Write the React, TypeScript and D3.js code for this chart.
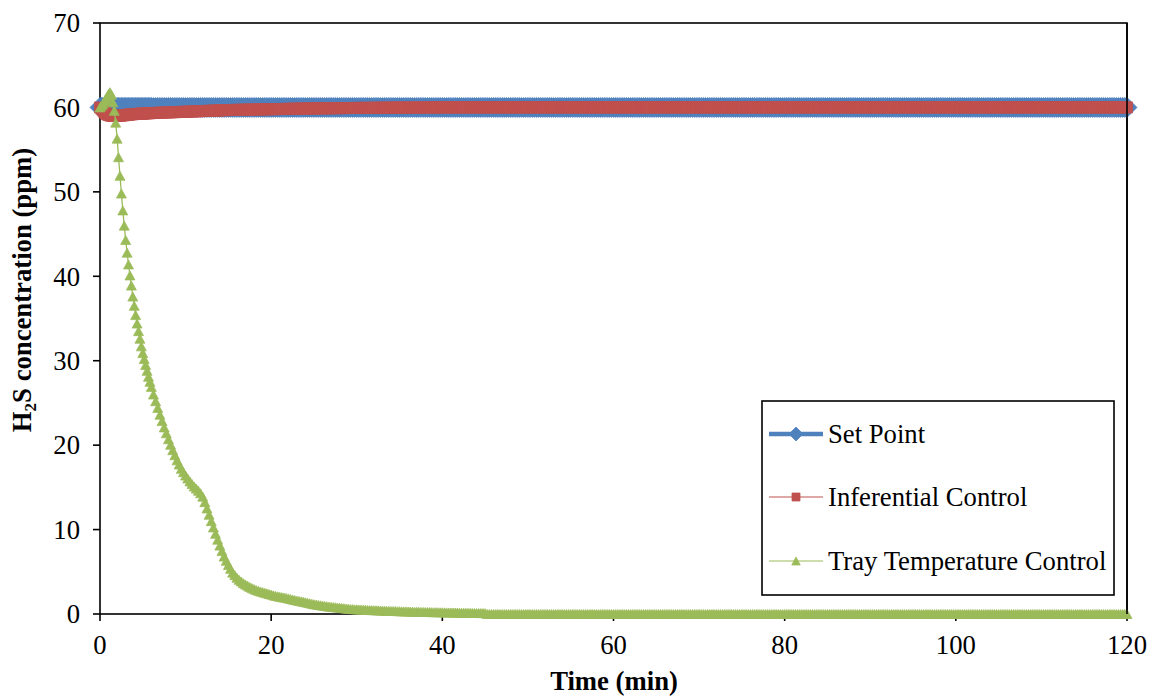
import React from "react";
import * as d3 from "d3";

// ---- sampling times (min) ----
const timeFine: number[] = d3.range(37).map((i) => i / 6); // 0 .. 6 min, 10 s steps
const timeMid: number[] = d3.range(6.25, 45.001, 0.25); // 6.25 .. 45 min
const timeTail: number[] = d3.range(45.25, 120.001, 0.25); // 45.25 .. 120 min

// ---- Tray Temperature Control (ppm) ----
const trayFine = [60.0, 60.2, 60.4, 60.7, 61.0, 61.3, 61.6, 61.8, 61.5, 60.6, 59.6, 58.2, 56.3, 54.1, 51.9, 49.8, 47.8, 46.0, 44.3, 42.8, 41.4, 40.1, 38.9, 37.6, 36.5, 35.4, 34.4, 33.5, 32.6, 31.7, 30.9, 30.2, 29.5, 28.8, 28.1, 27.5, 26.9];
const trayMid = [
  26.0, 25.2, 24.4, 23.6,
  22.85, 22.1, 21.4, 20.7,
  20.05, 19.4, 18.8, 18.2,
  17.7, 17.2, 16.8, 16.4,
  16.05, 15.7, 15.4, 15.1,
  14.85, 14.6, 14.3, 13.9,
  13.25, 12.5, 11.75, 11.0,
  10.25, 9.5, 8.8, 8.1,
  7.45, 6.8, 6.3, 5.8,
  5.35, 4.9, 4.6, 4.3,
  4.05, 3.85, 3.65, 3.5,
  3.35, 3.2, 3.07, 2.95,
  2.85, 2.75, 2.67, 2.6,
  2.52, 2.45, 2.37, 2.3,
  2.22, 2.15, 2.1, 2.05,
  2.0, 1.95, 1.9, 1.85,
  1.78, 1.72, 1.66, 1.6,
  1.55, 1.5, 1.45, 1.4,
  1.34, 1.28, 1.22, 1.16,
  1.12, 1.08, 1.04, 1.0,
  0.96, 0.92, 0.88, 0.85,
  0.82, 0.8, 0.77, 0.74,
  0.71, 0.68, 0.65, 0.62,
  0.6, 0.58, 0.56, 0.55,
  0.53, 0.52, 0.51, 0.5,
  0.48, 0.47, 0.46, 0.45,
  0.44, 0.43, 0.41, 0.4,
  0.39, 0.38, 0.37, 0.36,
  0.355, 0.35, 0.34, 0.33,
  0.32, 0.31, 0.305, 0.3,
  0.29, 0.28, 0.275, 0.27,
  0.26, 0.25, 0.245, 0.24,
  0.235, 0.23, 0.225, 0.22,
  0.215, 0.21, 0.205, 0.2,
  0.195, 0.19, 0.185, 0.18,
  0.175, 0.17, 0.165, 0.16,
  0.155, 0.15, 0.145, 0.14,
  0.135, 0.13, 0.125, 0.12,
  0.115, 0.11, 0.105, 0.1,
];
const trayTailValue = 0; // flat at 0 ppm after ~45 min

// ---- Inferential Control (ppm) ----
const inferFine = [60.0, 59.85, 59.65, 59.45, 59.3, 59.18, 59.1, 59.05, 59.02, 59.0, 59.0, 59.0, 59.0, 59.01, 59.02, 59.04, 59.06, 59.08, 59.1, 59.12, 59.14, 59.16, 59.18, 59.2, 59.21, 59.22, 59.23, 59.24, 59.25, 59.26, 59.27, 59.28, 59.29, 59.3, 59.31, 59.32, 59.33];
const inferMid = [
  59.34, 59.35, 59.36, 59.37,
  59.38, 59.39, 59.4, 59.41,
  59.42, 59.43, 59.44, 59.45,
  59.46, 59.47, 59.48, 59.49,
  59.5, 59.51, 59.52, 59.53,
  59.54, 59.55, 59.56, 59.57,
  59.58, 59.59, 59.6, 59.61,
  59.62, 59.63, 59.64, 59.65,
  59.66, 59.67, 59.68, 59.69,
  59.695, 59.7, 59.705, 59.71,
  59.715, 59.72, 59.725, 59.73,
  59.735, 59.74, 59.745, 59.75,
  59.755, 59.76, 59.765, 59.77,
  59.775, 59.78, 59.785, 59.79,
  59.795, 59.8, 59.805, 59.81,
  59.815, 59.82, 59.825, 59.83,
  59.835, 59.84, 59.845, 59.85,
  59.855, 59.86, 59.865, 59.87,
  59.873, 59.876, 59.879, 59.882,
  59.885, 59.888, 59.891, 59.894,
  59.897, 59.9, 59.903, 59.906,
  59.909, 59.912, 59.915, 59.918,
  59.921, 59.924, 59.927, 59.93,
  59.932, 59.934, 59.936, 59.938,
  59.94, 59.942, 59.944, 59.946,
  59.948, 59.95, 59.952, 59.954,
  59.956, 59.958, 59.96, 59.962,
  59.964, 59.966, 59.968, 59.97,
  59.972, 59.974, 59.976, 59.978,
  59.979, 59.98, 59.981, 59.982,
  59.983, 59.984, 59.985, 59.986,
  59.987, 59.988, 59.989, 59.99,
  59.991, 59.992, 59.993, 59.994,
  59.995, 59.996, 59.997, 59.998,
  59.998, 59.999, 59.999, 60.0,
  60.0, 60.0, 60.0, 60.0,
  60.0, 60.0, 60.0, 60.0,
  60.0, 60.0, 60.0, 60.0,
  60.0, 60.0, 60.0, 60.0,
];
const inferTailValue = 60;

// ---- Set Point (ppm) ----
const setPointValue = 60;

// ---- axes ----
const xTicks = [0, 20, 40, 60, 80, 100, 120];
const yTicks = [0, 10, 20, 30, 40, 50, 60, 70];
const seriesNames = ["Set Point", "Inferential Control", "Tray Temperature Control"];

const times = [...timeFine, ...timeMid, ...timeTail];
const setPoint = times.map(() => setPointValue);
const inferential = [...inferFine, ...inferMid, ...timeTail.map(() => inferTailValue)];
const tray = [...trayFine, ...trayMid, ...timeTail.map(() => trayTailValue)];

const W = 1152;
const H = 698;
const L = 100, R = 1127, T = 23, B = 614;
const FONT = "'Liberation Serif', 'Times New Roman', serif";
const FS = 26.7;
const BLUE = "#4F81BD";
const RED = "#C0504D";
const GREEN = "#9BBB59";

const x = d3.scaleLinear().domain([0, 120]).range([L, R]);
const y = d3.scaleLinear().domain([0, 70]).range([B, T]);

type Pt = [number, number];
const toPts = (vals: number[]): Pt[] => vals.map((v, i) => [x(times[i]), y(v)]);

const lineGen = d3.line<Pt>().x((d) => d[0]).y((d) => d[1]);

const diamond = (cx: number, cy: number, r: number) =>
  `M${cx},${cy - r}L${cx + r},${cy}L${cx},${cy + r}L${cx - r},${cy}Z`;
const square = (cx: number, cy: number, s: number) =>
  `M${cx - s / 2},${cy - s / 2}h${s}v${s}h${-s}Z`;
const triangle = (cx: number, cy: number, w: number, h: number) =>
  `M${cx},${cy - h / 2}L${cx + w / 2},${cy + h / 2}L${cx - w / 2},${cy + h / 2}Z`;

export default function App() {
  const spPts = toPts(setPoint);
  const infPts = toPts(inferential);
  const trPts = toPts(tray);

  const legendX = 762, legendY = 401, legendW = 352, legendH = 194;
  const legendRows = [434, 497, 561];

  return (
    <svg
      width={W}
      height={H}
      viewBox={`0 0 ${W} ${H}`}
      style={{ position: "absolute", left: 0, top: 0, background: "#fff" }}
      fontFamily={FONT}
    >
      <rect x={0} y={0} width={W} height={H} fill="#fff" />
      {/* axes frame */}
      <rect x={L} y={T} width={R - L} height={B - T} fill="none" stroke="#000" strokeWidth={1.6} />
      {yTicks.map((t) => (
        <g key={"y" + t}>
          <line x1={L - 7} x2={L} y1={y(t)} y2={y(t)} stroke="#000" strokeWidth={1.6} />
          <text x={80} y={y(t)} dy="0.35em" textAnchor="end" fontSize={FS} fill="#000">
            {t}
          </text>
        </g>
      ))}
      {xTicks.map((t) => (
        <g key={"x" + t}>
          <line x1={x(t)} x2={x(t)} y1={B} y2={B + 7} stroke="#000" strokeWidth={1.6} />
          <text x={x(t)} y={654} textAnchor="middle" fontSize={FS} fill="#000">
            {t}
          </text>
        </g>
      ))}

      {/* Set Point */}
      <path d={lineGen(spPts) || ""} fill="none" stroke={BLUE} strokeWidth={4.5} />
      {spPts.map((p, i) => (
        <path key={"sp" + i} d={diamond(p[0], p[1], 10)} fill={BLUE} stroke={BLUE} strokeWidth={0.75} />
      ))}

      {/* Inferential Control */}
      <path d={lineGen(infPts) || ""} fill="none" stroke={RED} strokeWidth={1.2} />
      {infPts.map((p, i) => (
        <path key={"in" + i} d={square(p[0], p[1], 11)} fill={RED} stroke={RED} strokeWidth={0.75} />
      ))}

      {/* Tray Temperature Control */}
      <path d={lineGen(trPts) || ""} fill="none" stroke={GREEN} strokeWidth={1.3} />
      {trPts.map((p, i) => (
        <path key={"tr" + i} d={triangle(p[0], p[1], 10, 9)} fill={GREEN} stroke={GREEN} strokeWidth={0.75} />
      ))}

      {/* right border over series */}
      <line x1={R} x2={R} y1={T} y2={B} stroke="#000" strokeWidth={1.6} />

      {/* axis titles */}
      <text x={614} y={690} textAnchor="middle" fontSize={FS} fontWeight="bold" fill="#000">
        Time (min)
      </text>
      <text
        transform={`translate(31,290) rotate(-90)`}
        textAnchor="middle"
        fontSize={FS}
        fontWeight="bold"
        fill="#000"
      >
        H<tspan fontSize={17} dy={5}>2</tspan>
        <tspan dy={-5}>S concentration (ppm)</tspan>
      </text>

      {/* legend */}
      <rect x={legendX} y={legendY} width={legendW} height={legendH} fill="#fff" stroke="#000" strokeWidth={1.6} />
      <g>
        <line x1={769} x2={823} y1={legendRows[0]} y2={legendRows[0]} stroke={BLUE} strokeWidth={4.5} />
        <path d={diamond(796, legendRows[0], 7)} fill={BLUE} stroke={BLUE} strokeWidth={0.75} />
        <line x1={769} x2={823} y1={legendRows[1]} y2={legendRows[1]} stroke={RED} strokeWidth={1.2} />
        <path d={square(796, legendRows[1], 8)} fill={RED} stroke={RED} strokeWidth={0.75} />
        <line x1={769} x2={823} y1={legendRows[2]} y2={legendRows[2]} stroke={GREEN} strokeWidth={1.2} />
        <path d={triangle(796, legendRows[2], 8.5, 8)} fill={GREEN} stroke={GREEN} strokeWidth={0.75} />
        {seriesNames.map((n, i) => (
          <text key={n} x={828} y={legendRows[i]} dy="0.35em" fontSize={FS} fill="#000">
            {n}
          </text>
        ))}
      </g>
    </svg>
  );
}
